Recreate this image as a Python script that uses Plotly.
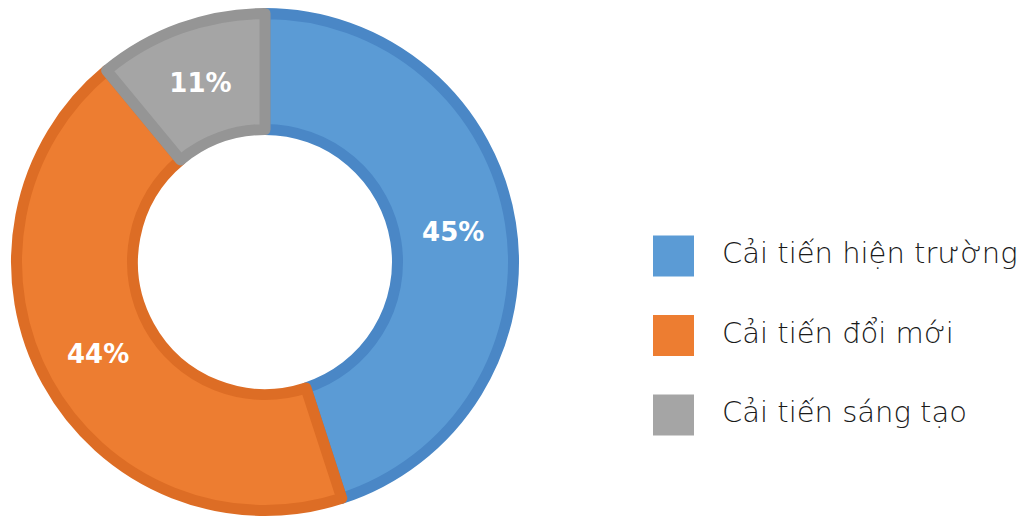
"""Biểu đồ donut: tỷ lệ các loại cải tiến."""

import plotly.graph_objects as go

W, H = 1035, 517
PAGE_MARGIN = 8  # lề mặc định của <body>

labels = ["Cải tiến hiện trường", "Cải tiến đổi mới", "Cải tiến sáng tạo"]
values = [45, 44, 11]
fill_colors = ["#5B9BD5", "#ED7D31", "#A5A5A5"]
edge_colors = ["#4A87C6", "#DD6D25", "#959595"]

# vị trí donut (pixel trên ảnh)
cx, cy, r_out, r_in = 265, 262, 254, 127
border = 11
r_path = r_out - border / 2


def px_x(x):
    return (x - PAGE_MARGIN) / W


def px_y(y):
    return 1 - (y - PAGE_MARGIN) / H


fig = go.Figure()

fig.add_trace(go.Pie(
    labels=labels,
    values=values,
    sort=False,
    direction="clockwise",
    rotation=0,
    hole=(r_in + border / 2) / r_path,
    marker={
        "colors": fill_colors,
        "line": {"color": edge_colors, "width": border},
    },
    texttemplate="%{percent:.0%}",
    textposition="inside",
    insidetextorientation="horizontal",
    textfont={"family": "DejaVu Sans", "size": 26, "color": "white",
              "weight": "bold"},
    domain={
        "x": [px_x(cx - r_path), px_x(cx + r_path)],
        "y": [px_y(cy + r_path), px_y(cy - r_path)],
    },
    showlegend=False,
    hoverinfo="label+percent",
))

# chú thích tự vẽ (ô vuông lớn)
legend_x, legend_y0, legend_step, box = 653, 256, 79.5, 41
for i, (label, color) in enumerate(zip(labels, fill_colors)):
    yc = legend_y0 + i * legend_step
    fig.add_shape(
        type="rect",
        xref="paper", yref="paper",
        x0=px_x(legend_x), x1=px_x(legend_x + box),
        y0=px_y(yc + box / 2), y1=px_y(yc - box / 2),
        fillcolor=color,
        line={"width": 0},
    )
    fig.add_annotation(
        text=label,
        xref="paper", yref="paper",
        x=px_x(720), y=px_y(yc - 3),
        xanchor="left", yanchor="middle",
        showarrow=False,
        font={"family": "DejaVu Sans", "size": 29, "color": "#1a1a1a",
              "weight": 200},
    )

fig.update_layout(
    width=W,
    height=H,
    margin={"l": 0, "r": 0, "t": 0, "b": 0},
    paper_bgcolor="white",
    plot_bgcolor="white",
)

fig.write_html("out.html")
